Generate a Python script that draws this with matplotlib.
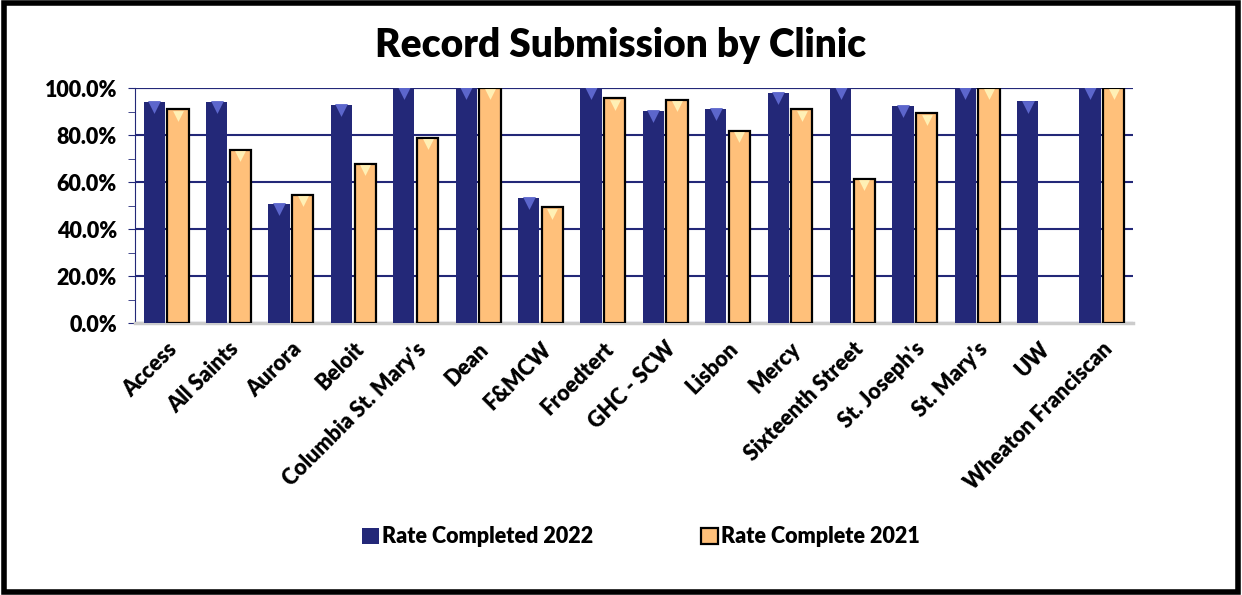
import numpy as np
import matplotlib.pyplot as plt
from matplotlib.ticker import PercentFormatter, MultipleLocator

plt.rcParams['font.family'] = ['Lato', 'DejaVu Sans']
plt.rcParams['font.weight'] = 'heavy'

clinics = ['Access', 'All Saints', 'Aurora', 'Beloit', "Columbia St. Mary's", 'Dean',
           'F&MCW', 'Froedtert', 'GHC - SCW', 'Lisbon', 'Mercy', 'Sixteenth Street',
           "St. Joseph's", "St. Mary's", 'UW', 'Wheaton Franciscan']
rate_2022 = [94.2, 94.0, 50.6, 93.0, 100.0, 100.0, 53.3, 100.0, 90.4, 91.1, 97.9, 100.0,
             92.3, 100.0, 94.3, 100.0]
rate_2021 = [90.9, 73.6, 54.5, 67.7, 78.6, 100.0, 49.2, 95.6, 94.9, 81.8, 90.9, 61.3,
             89.2, 100.0, np.nan, 100.0]  # UW has no 2021 value

navy = '#232878'
orange = '#FFC07A'

fig = plt.figure(figsize=(12.42, 5.95), dpi=100)
ax = fig.add_axes([0.1087, 0.457, 0.8036, 0.395])

x = np.arange(len(clinics))
w = 0.34
off = 0.19
b1 = ax.bar(x - off, rate_2022, w, color=navy, label='Rate Completed 2022', zorder=3)
b2 = ax.bar(x + off, rate_2021, w, color=orange, edgecolor='black', linewidth=1.6,
            label='Rate Complete 2021', zorder=3)

# bevel highlight at the top of each bar
v1 = np.array(rate_2022)
v2 = np.array(rate_2021)
ax.scatter(x - off, v1 - 2.2, marker='v', s=85, color='#5C66CC', zorder=4, linewidths=0)
ax.scatter(x + off, v2 - 2.6, marker='v', s=60, color='#FFF0B5', zorder=4, linewidths=0)

ax.set_xlim(-0.5, len(clinics) - 0.5)
ax.set_ylim(0, 100)
ax.yaxis.set_major_locator(MultipleLocator(20))
ax.yaxis.set_minor_locator(MultipleLocator(10))
ax.yaxis.set_major_formatter(PercentFormatter(decimals=1))
ax.grid(axis='y', color=navy, linewidth=1.5, zorder=0)
ax.axhline(100, color=navy, linewidth=1.5, zorder=1)

for s in ['top', 'right']:
    ax.spines[s].set_visible(False)
ax.spines['left'].set_color(navy)
ax.spines['bottom'].set_color('#CCCCCC')
ax.spines['bottom'].set_linewidth(2.5)
ax.tick_params(axis='y', which='both', color=navy, length=5, labelsize=15.5, pad=8)
ax.tick_params(axis='x', length=0, labelsize=15.5, pad=11)

ax.set_xticks(x)
ax.set_xticklabels(clinics, rotation=45, ha='right', rotation_mode='anchor', fontweight='heavy')
for lab in ax.get_yticklabels():
    lab.set_fontweight('heavy')

fig.suptitle('Record Submission by Clinic', fontsize=28, fontweight='heavy', y=0.955)

fig.legend(handles=[b1, b2], loc='center', bbox_to_anchor=(0.516, 0.0975), ncol=2,
           frameon=False, handlelength=0.8, handleheight=0.75,
           handletextpad=0.15, columnspacing=5, prop={'weight': 'heavy', 'size': 15.5})

# outer black border
fig.patches.append(plt.Rectangle((0.003, 0.005), 0.994, 0.99, transform=fig.transFigure,
                                 fill=False, edgecolor='black', linewidth=4))

fig.savefig('out.png', dpi=100)
